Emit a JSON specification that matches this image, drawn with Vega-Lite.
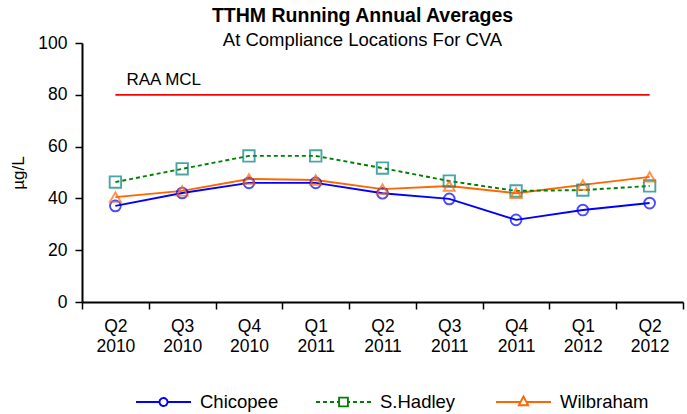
{
  "$schema": "https://vega.github.io/schema/vega-lite/v6.json",
  "autosize": "none",
  "width": 601,
  "height": 259,
  "padding": {"left": 82, "top": 43, "right": 4, "bottom": 112},
  "config": {
    "font": "Liberation Sans",
    "view": {"stroke": null},
    "axis": {"grid": false, "domainColor": "black", "tickColor": "black", "labelColor": "black", "titleColor": "black", "labelFontSize": 17.5, "titleFontSize": 17, "titleFontWeight": "normal", "domainWidth": 2, "tickWidth": 1.5}
  },
  "title": {
    "text": "TTHM Running Annual Averages",
    "subtitle": "At Compliance Locations For CVA",
    "fontSize": 19.5,
    "fontWeight": "bold",
    "subtitleFontSize": 18.5,
    "subtitleColor": "black",
    "subtitlePadding": 4,
    "offset": -16,
    "dx": -20,
    "color": "black"
  },
  "datasets": {
    "series": [
      {"quarter": "Q2 2010", "series": "Chicopee", "value": 37.1},
      {"quarter": "Q3 2010", "series": "Chicopee", "value": 42.1},
      {"quarter": "Q4 2010", "series": "Chicopee", "value": 46.0},
      {"quarter": "Q1 2011", "series": "Chicopee", "value": 46.0},
      {"quarter": "Q2 2011", "series": "Chicopee", "value": 42.0},
      {"quarter": "Q3 2011", "series": "Chicopee", "value": 39.8},
      {"quarter": "Q4 2011", "series": "Chicopee", "value": 31.7},
      {"quarter": "Q1 2012", "series": "Chicopee", "value": 35.5},
      {"quarter": "Q2 2012", "series": "Chicopee", "value": 38.2},
      {"quarter": "Q2 2010", "series": "S.Hadley", "value": 46.3},
      {"quarter": "Q3 2010", "series": "S.Hadley", "value": 51.4},
      {"quarter": "Q4 2010", "series": "S.Hadley", "value": 56.4},
      {"quarter": "Q1 2011", "series": "S.Hadley", "value": 56.4},
      {"quarter": "Q2 2011", "series": "S.Hadley", "value": 51.7},
      {"quarter": "Q3 2011", "series": "S.Hadley", "value": 46.7},
      {"quarter": "Q4 2011", "series": "S.Hadley", "value": 42.9},
      {"quarter": "Q1 2012", "series": "S.Hadley", "value": 43.2},
      {"quarter": "Q2 2012", "series": "S.Hadley", "value": 44.8},
      {"quarter": "Q2 2010", "series": "Wilbraham", "value": 40.5},
      {"quarter": "Q3 2010", "series": "Wilbraham", "value": 42.9},
      {"quarter": "Q4 2010", "series": "Wilbraham", "value": 47.5},
      {"quarter": "Q1 2011", "series": "Wilbraham", "value": 47.1},
      {"quarter": "Q2 2011", "series": "Wilbraham", "value": 43.6},
      {"quarter": "Q3 2011", "series": "Wilbraham", "value": 44.8},
      {"quarter": "Q4 2011", "series": "Wilbraham", "value": 42.0},
      {"quarter": "Q1 2012", "series": "Wilbraham", "value": 45.2},
      {"quarter": "Q2 2012", "series": "Wilbraham", "value": 48.3}
    ],
    "mcl": [
      {"quarter": "Q2 2010", "value": 80, "label": "RAA MCL"},
      {"quarter": "Q2 2012", "value": 80, "label": ""}
    ]
  },
  "encoding": {
    "x": {
      "field": "quarter", "type": "ordinal",
      "scale": {"type": "band", "paddingInner": 0, "paddingOuter": 0, "domain": ["Q2 2010", "Q3 2010", "Q4 2010", "Q1 2011", "Q2 2011", "Q3 2011", "Q4 2011", "Q1 2012", "Q2 2012"]},
      "axis": {"title": null, "labelAngle": 0, "labelExpr": "split(datum.label, ' ')", "tickBand": "extent", "tickSize": 7, "labelPadding": 8, "labelLineHeight": 20}
    },
    "y": {
      "field": "value", "type": "quantitative",
      "scale": {"domain": [0, 100]},
      "axis": {"title": "µg/L", "values": [0, 20, 40, 60, 80, 100], "tickSize": 7, "labelPadding": 8, "titlePadding": 10}
    }
  },
  "layer": [
    {
      "data": {"name": "mcl"},
      "mark": {"type": "line", "color": "#FF0000", "strokeWidth": 1.8}
    },
    {
      "data": {"name": "mcl"},
      "mark": {"type": "text", "align": "left", "baseline": "alphabetic", "dx": 11, "dy": -10, "fontSize": 17, "color": "black"},
      "encoding": {"text": {"field": "label"}}
    },
    {
      "data": {"name": "series"},
      "transform": [{"filter": "datum.series !== 'S.Hadley'"}],
      "mark": {"type": "line", "strokeWidth": 1.9},
      "encoding": {
        "color": {
          "field": "series", "type": "nominal",
          "scale": {"domain": ["Chicopee", "S.Hadley", "Wilbraham"], "range": ["#0000FF", "#008000", "#FF6600"]},
          "legend": {
            "orient": "none",
            "legendX": 53,
            "legendY": 349,
            "direction": "horizontal",
            "title": null,
            "labelFontSize": 18.5,
            "labelColor": "black",
            "labelOffset": 8,
            "gridAlign": "all",
            "columnPadding": 26,
            "symbolSize": 3025,
            "clipHeight": 20,
            "symbolStrokeWidth": 1.9,
            "encode": {
              "symbols": {
                "update": {
                  "shape": {"signal": "datum.value === 'Chicopee' ? 'M-1,0H-0.145M0.145,0H1M-0.145,0A0.145,0.145 0 1,0 0.145,0A0.145,0.145 0 1,0 -0.145,0' : datum.value === 'S.Hadley' ? 'M-1,0H-0.855M-0.746,0H-0.6M-0.49,0H-0.345M-0.236,0H-0.16M0.16,0H0.236M0.345,0H0.49M0.6,0H0.746M0.855,0H1M-0.16,-0.16H0.16V0.16H-0.16Z' : 'M-1,0H-0.13M0.13,0H1M0,-0.2L0.17,0.12L-0.17,0.12Z'"},
                  "fill": {"value": "white"},
                  "strokeDash": {"value": [1, 0]}
                }
              }
            }
          }
        }
      }
    },
    {
      "data": {"name": "series"},
      "transform": [{"filter": "datum.series === 'S.Hadley'"}],
      "mark": {"type": "line", "strokeWidth": 1.9, "strokeDash": [4, 3]},
      "encoding": {
        "color": {"field": "series", "type": "nominal"}
      }
    },
    {
      "data": {"name": "series"},
      "transform": [{"filter": "datum.series === 'Chicopee'"}],
      "mark": {"type": "point", "shape": "circle", "filled": false, "size": 115, "strokeWidth": 1.9, "color": "#0000FF"}
    },
    {
      "data": {"name": "series"},
      "transform": [{"filter": "datum.series === 'S.Hadley'"}],
      "mark": {"type": "point", "shape": "square", "filled": false, "size": 130, "strokeWidth": 1.9, "color": "#008080"}
    },
    {
      "data": {"name": "series"},
      "transform": [{"filter": "datum.series === 'Wilbraham'"}],
      "mark": {"type": "point", "shape": "triangle-up", "filled": false, "size": 120, "strokeWidth": 1.9, "color": "#FF6600"}
    }
  ]
}
